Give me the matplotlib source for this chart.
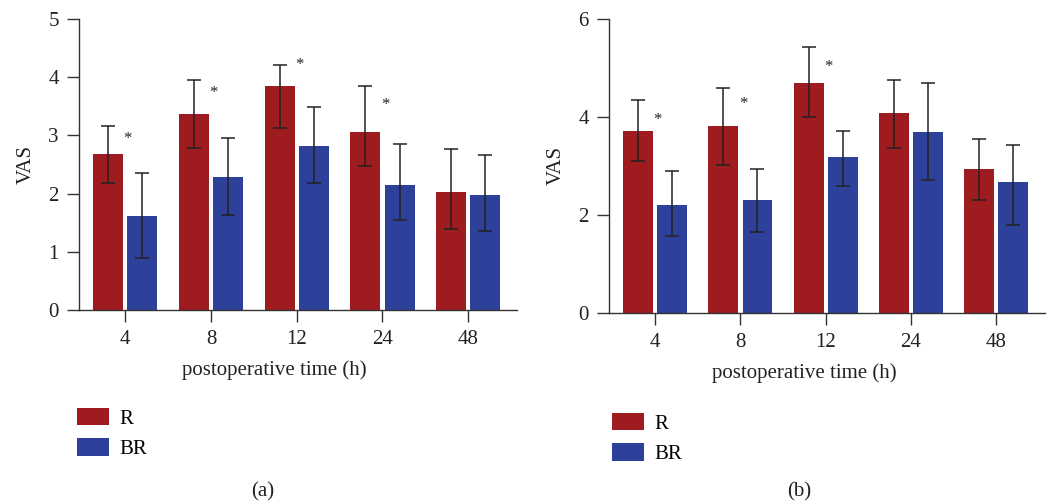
import numpy as np
import matplotlib.pyplot as plt

plt.rcParams['font.family'] = ['Liberation Serif', 'DejaVu Serif']

times = ["4", "8", "12", "24", "48"]

# panel (a)
a_r = [2.68, 3.37, 3.85, 3.06, 2.03]
a_r_hi = [3.16, 3.95, 4.21, 3.85, 2.77]
a_r_lo = [2.19, 2.78, 3.13, 2.48, 1.39]
a_br = [1.61, 2.29, 2.82, 2.15, 1.98]
a_br_hi = [2.36, 2.96, 3.49, 2.86, 2.66]
a_br_lo = [0.90, 1.64, 2.18, 1.55, 1.36]
a_star = [2.94, 3.73, 4.21, 3.52, None]

# panel (b)
b_r = [3.72, 3.82, 4.70, 4.07, 2.93]
b_r_hi = [4.34, 4.59, 5.43, 4.76, 3.55]
b_r_lo = [3.10, 3.02, 3.99, 3.36, 2.30]
b_br = [2.20, 2.30, 3.18, 3.70, 2.67]
b_br_hi = [2.89, 2.93, 3.72, 4.70, 3.43]
b_br_lo = [1.57, 1.65, 2.59, 2.72, 1.79]
b_star = [3.94, 4.26, 5.01, None, None]

red = "#9e1b20"
blue = "#2e419a"
ink = "#222222"

fig = plt.figure(figsize=(10.48, 5.04), dpi=100)


def panel(rect, r, r_hi, r_lo, br, br_hi, br_lo, stars, ymax, yticks, legpos, tag, tagpos, xlab_x):
    ax = fig.add_axes(rect)
    x = np.arange(len(times))
    w = 0.35
    off = 0.2
    r = np.array(r)
    br = np.array(br)
    r_err = [r - np.array(r_lo), np.array(r_hi) - r]
    br_err = [br - np.array(br_lo), np.array(br_hi) - br]
    kw = dict(ecolor=ink, capsize=5, error_kw=dict(elinewidth=1.1, capthick=1.1))
    b1 = ax.bar(x - off, r, w, color=red, yerr=r_err, label="R", **kw)
    b2 = ax.bar(x + off, br, w, color=blue, yerr=br_err, label="BR", **kw)
    for xi, s in zip(x, stars):
        if s is not None:
            ax.text(xi + 0.03, s, "*", ha="center", va="center", fontsize=12, color=ink)
    ax.set_xlim(-0.54, len(times) - 1 + 0.57)
    ax.set_ylim(0, ymax)
    ax.set_yticks(yticks)
    ax.set_xticks(x)
    ax.set_xticklabels(times)
    for s in ["top", "right"]:
        ax.spines[s].set_visible(False)
    for s in ["left", "bottom"]:
        ax.spines[s].set_color("#333333")
        ax.spines[s].set_linewidth(1.0)
    ax.tick_params(direction="out", length=8.5, width=1.0, color="#333333",
                   labelsize=15, labelcolor=ink, pad=6)
    ax.set_xlabel("postoperative time (h)", fontsize=15, color=ink, labelpad=8)
    ax.xaxis.label.set_x(xlab_x)
    ax.set_ylabel("VAS", fontsize=15, color=ink, labelpad=9)
    fig.legend(handles=[b1, b2], labels=["R", "BR"], loc="upper left",
               bbox_to_anchor=legpos, frameon=False, fontsize=15,
               handlelength=1.55, handleheight=0.9, handletextpad=0.5,
               labelspacing=0.45, borderpad=0, borderaxespad=0)
    fig.text(tagpos[0], tagpos[1], tag, ha="center", va="center", fontsize=15, color=ink)
    return ax


panel([0.0754, 0.3849, 0.4179, 0.5774], a_r, a_r_hi, a_r_lo, a_br, a_br_hi, a_br_lo,
      a_star, 5, [0, 1, 2, 3, 4, 5], (76.7 / 1048, 1 - 408 / 504), "(a)",
      (263 / 1048, 1 - 492 / 504), 0.445)
panel([0.5811, 0.3796, 0.4160, 0.5827], b_r, b_r_hi, b_r_lo, b_br, b_br_hi, b_br_lo,
      b_star, 6, [0, 2, 4, 6], (611.7 / 1048, 1 - 413 / 504), "(b)",
      (799 / 1048, 1 - 492 / 504), 0.449)

fig.savefig("out.png", dpi=100)
